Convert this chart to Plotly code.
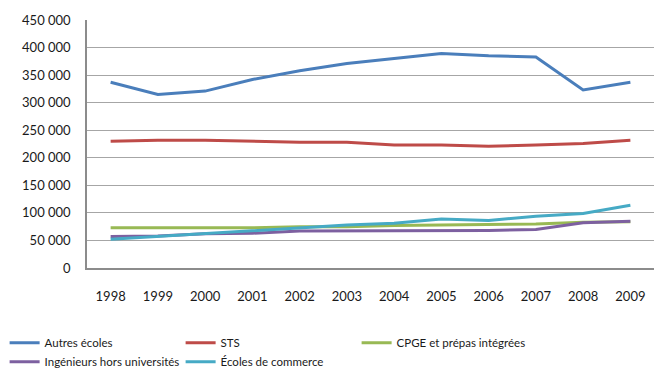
import plotly.graph_objects as go

years = [str(y) for y in range(1998, 2010)]

autres_ecoles = [337000, 315000, 321000, 342000, 358000, 371000, 380000, 389000, 385000, 383000, 323000, 337000]
sts = [230000, 232000, 232000, 230000, 228000, 228000, 223000, 223000, 221000, 223000, 226000, 232000]
cpge = [73000, 73000, 73000, 73000, 75000, 75000, 77000, 78000, 78000, 80000, 83000, 84000]
ingenieurs = [57000, 58000, 62000, 63000, 67000, 67000, 67000, 68000, 68000, 70000, 82000, 85000]
commerce = [52000, 57000, 63000, 68000, 73000, 78000, 81000, 89000, 86000, 94000, 99000, 114000]

series = [
    ("Autres écoles", autres_ecoles, "#4A7EBB"),
    ("STS", sts, "#BE4B48"),
    ("CPGE et prépas intégrées", cpge, "#98B954"),
    ("Ingénieurs hors universités", ingenieurs, "#7D60A0"),
    ("Écoles de commerce", commerce, "#46AAC5"),
]

fig = go.Figure()
for name, vals, color in series:
    fig.add_trace(go.Scatter(x=years, y=vals, name=name, mode="lines",
                             line=dict(color=color, width=3)))

font_family = "Lato, Open Sans, sans-serif"
fig.update_layout(
    width=659, height=374,
    margin=dict(l=87, r=5, t=20, b=106),
    paper_bgcolor="white", plot_bgcolor="white",
    separators=", ",
    font=dict(family=font_family, size=13, color="#1a1a1a"),
    showlegend=True,
    legend=dict(
        orientation="h", xref="container", yref="container",
        x=0.007, y=0.122, xanchor="left", yanchor="top",
        entrywidth=131, entrywidthmode="pixels", itemwidth=30,
        tracegroupgap=0, font=dict(size=11.5),
    ),
)
fig.update_xaxes(
    type="category", showgrid=False, showline=True, linecolor="#8c8c8c",
    linewidth=1.5, ticks="", ticklabelstandoff=16, tickfont=dict(size=13),
    range=[-0.5, 11.5],
)
fig.update_yaxes(
    range=[0, 450000], dtick=50000, tickformat=",d", showgrid=True,
    gridcolor="#a6a6a6", gridwidth=1, showline=True, linecolor="#8c8c8c",
    linewidth=1.5, zeroline=False, ticks="", ticklabelstandoff=12,
    tickfont=dict(size=13),
)

fig.write_html("out.html")
